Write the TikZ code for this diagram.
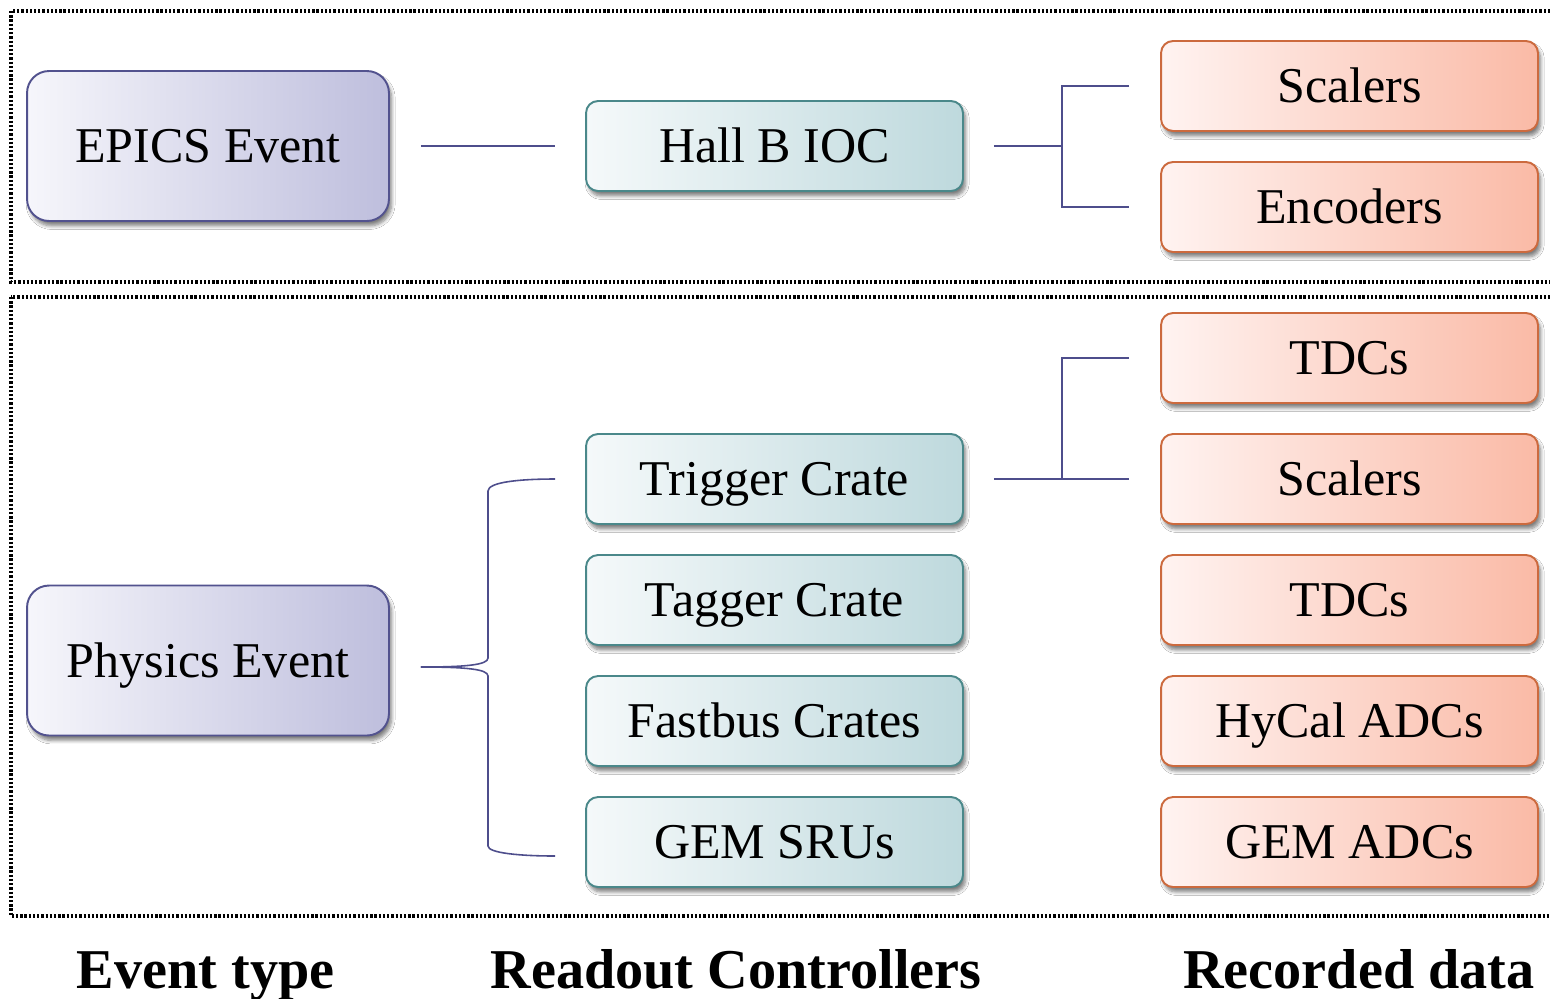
\documentclass[tikz,border=0pt]{standalone}
\usepackage{fontspec}
\setmainfont{Liberation Serif}
\usetikzlibrary{calc,shadows.blur}
\definecolor{purpB}{RGB}{82,82,142}
\definecolor{purpL}{RGB}{246,246,251}
\definecolor{purpR}{RGB}{190,190,221}
\definecolor{tealB}{RGB}{74,136,138}
\definecolor{tealL}{RGB}{245,249,250}
\definecolor{tealR}{RGB}{190,217,221}
\definecolor{oranB}{RGB}{204,106,62}
\definecolor{oranL}{RGB}{255,243,241}
\definecolor{oranR}{RGB}{250,186,166}
\definecolor{connC}{RGB}{78,78,140}
\tikzset{
  boxbase/.style={rounded corners=0.24cm, line width=1.1pt, inner sep=0pt,
    font=\fontsize{28.5}{34}\selectfont, text height=19pt, text depth=0pt,
    blur shadow={shadow xshift=1.5pt, shadow yshift=-2.8pt, shadow blur radius=2pt, shadow blur steps=6, shadow opacity=50}},
  evbox/.style={boxbase, draw=purpB, left color=purpL, right color=purpR,
    minimum width=7.24cm, minimum height=3.0cm, rounded corners=0.44cm},
  ctrlbox/.style={boxbase, draw=tealB, left color=tealL, right color=tealR,
    minimum width=7.54cm, minimum height=1.8cm},
  databox/.style={boxbase, draw=oranB, left color=oranL, right color=oranR,
    minimum width=7.54cm, minimum height=1.8cm},
  conn/.style={draw=connC, line width=0.9pt},
  frame/.style={draw=black, line width=1.9pt, dash pattern=on 1.3pt off 1.1pt},
  caption/.style={anchor=base, font=\bfseries\fontsize{32}{36}\selectfont}
}
\begin{document}
\begin{tikzpicture}[x=0.02cm, y=-0.02cm]
\useasboundingbox (0,0) rectangle (1550,998);
\clip (0,0) rectangle (1550,998);
\fill[white] (0,0) rectangle (1550,998);
% frames
\draw[frame] (11,11) rectangle (1570,282);
\draw[frame] (11,297) rectangle (1570,916);
% event boxes
\node[evbox] (epics) at (208,146) {EPICS Event};
\node[evbox] (phys) at (208,660.5) {Physics Event};
% controllers
\node[ctrlbox] (hallb) at (774.5,146) {Hall B IOC};
\node[ctrlbox] (trig) at (774.5,479) {Trigger Crate};
\node[ctrlbox] (tagg) at (774.5,600) {Tagger Crate};
\node[ctrlbox] (fast) at (774.5,721) {Fastbus Crates};
\node[ctrlbox] (gsru) at (774.5,842) {GEM SRUs};
% data
\node[databox] (scA) at (1349.5,86) {Scalers};
\node[databox] (enc) at (1349.5,207) {Encoders};
\node[databox] (tdcA) at (1349.5,358) {TDCs};
\node[databox] (scB) at (1349.5,479) {Scalers};
\node[databox] (tdcB) at (1349.5,600) {TDCs};
\node[databox] (hycal) at (1349.5,721) {HyCal ADCs};
\node[databox] (gadc) at (1349.5,842) {GEM ADCs};
% connectors
\draw[conn, shorten <=0.62cm, shorten >=0.6cm] (epics.east) -- (hallb.west);
\coordinate (jA) at (1062,146);
\draw[conn] ($(hallb.east)+(30,0)$) -- (jA);
\draw[conn] ($(scA.west)+(-31,0)$) -| (jA) |- ($(enc.west)+(-31,0)$);
\coordinate (jB) at (1062,479);
\draw[conn] ($(trig.east)+(30,0)$) -- ($(scB.west)+(-31,0)$);
\draw[conn] ($(tdcA.west)+(-31,0)$) -| (jB);
% brace
\coordinate (bs) at ($(phys.east)+(31,6.5)$);
\coordinate (bt) at ($(trig.west)+(-30,0)$);
\coordinate (bb) at ($(gsru.west)+(-30,14)$);
\draw[conn] (bs) .. controls (465,667) and (488,665) .. (488,658) -- (488,491)
  .. controls (488,482) and (520,479) .. (bt);
\draw[conn] (bs) .. controls (465,667) and (488,669) .. (488,676) -- (488,846)
  .. controls (488,853) and (520,856) .. (bb);
% captions
\node[caption] (c1) at (205.5,988) {Event type};
\node[caption] (c2) at (736,988) {Readout Controllers};
\node[caption] (c3) at (1359,988) {Recorded data};
\end{tikzpicture}
\end{document}
